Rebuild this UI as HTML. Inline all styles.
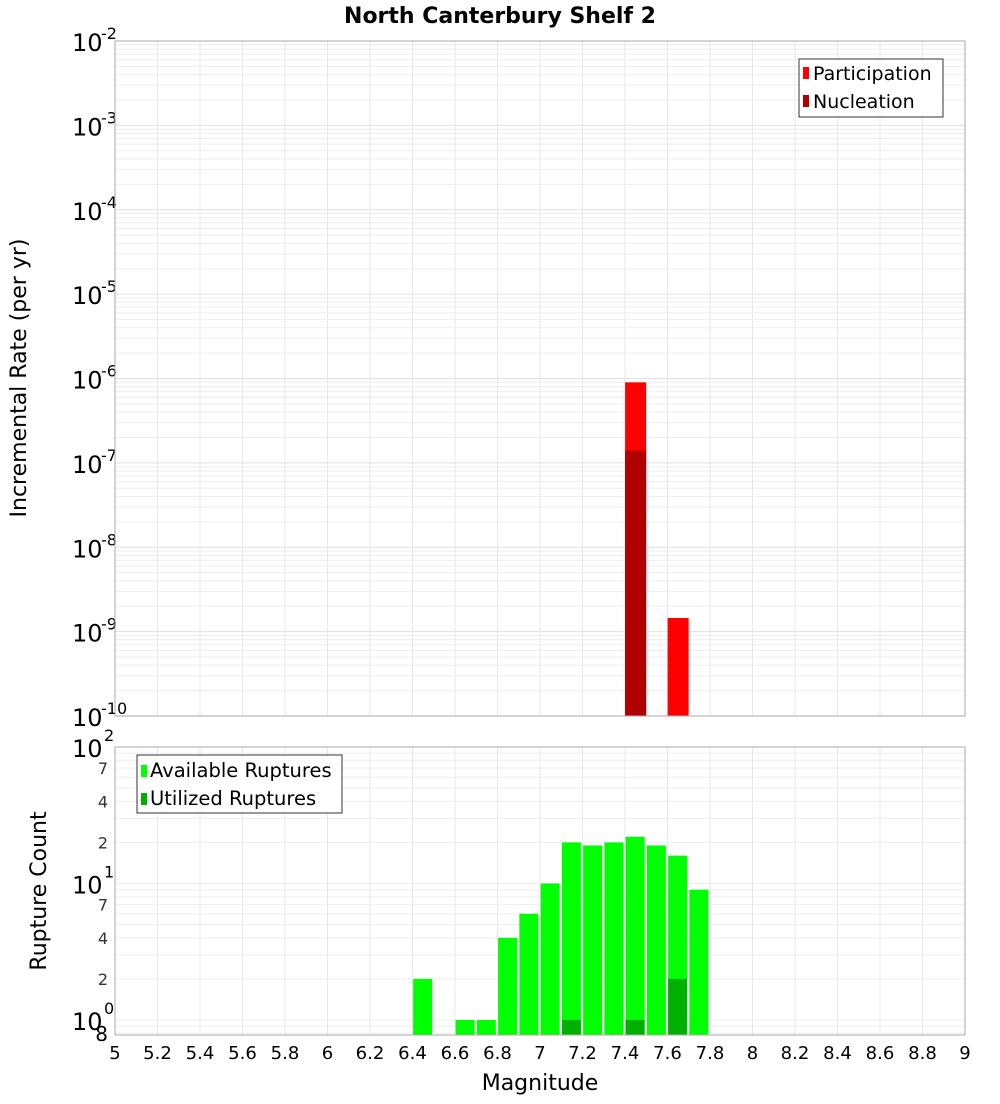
<!DOCTYPE html>
<html><head><meta charset="utf-8"><style>
body{margin:0;background:#fff;font-family:"DejaVu Sans","Liberation Sans",sans-serif}
svg text{font-family:"DejaVu Sans","Liberation Sans",sans-serif}
</style></head><body>
<svg id="c" width="1000" height="1100" xmlns="http://www.w3.org/2000/svg">
<text x="500" y="23" text-anchor="middle" font-size="22" font-weight="bold">North Canterbury Shelf 2</text>
<g id="gtop"></g><g id="gbot"></g>
<text transform="translate(26,378) rotate(-90)" text-anchor="middle" font-size="22">Incremental Rate (per yr)</text>
<text transform="translate(46,891) rotate(-90)" text-anchor="middle" font-size="22">Rupture Count</text>
<text x="540" y="1090" text-anchor="middle" font-size="22">Magnitude</text>
<g>
<rect x="799" y="59" width="144" height="58" fill="#fff" stroke="#333"/>
<rect x="803" y="67" width="6" height="12" fill="#ff0000"/><text x="813" y="80" font-size="19">Participation</text>
<rect x="803" y="95" width="6" height="12" fill="#b00000"/><text x="813" y="108" font-size="19">Nucleation</text>
</g>
<g>
<rect x="137" y="755" width="205" height="58" fill="#fff" stroke="#333"/>
<rect x="141" y="765" width="6" height="12" fill="#00ff00"/><text x="150" y="777" font-size="19.5">Available Ruptures</text>
<rect x="141" y="793" width="6" height="12" fill="#00b000"/><text x="150" y="805" font-size="19.5">Utilized Ruptures</text>
</g>
</svg>
<script>
const mags=[7.45,7.65];
const participation=[9e-7,1.45e-9];
const nucleation=[1.4e-7,0];
const bMags=[6.45,6.65,6.75,6.85,6.95,7.05,7.15,7.25,7.35,7.45,7.55,7.65,7.75];
const available=[2,1,1,4,6,10,20,19,20,22,19,16,9];
const utilized=[0,0,0,0,0,0,1,0,0,1,0,2,0];
const xTicks=[5,5.2,5.4,5.6,5.8,6,6.2,6.4,6.6,6.8,7,7.2,7.4,7.6,7.8,8,8.2,8.4,8.6,8.8,9];
const topExp=[-2,-3,-4,-5,-6,-7,-8,-9,-10];
const NS="http://www.w3.org/2000/svg";
const L=115,R=965;
const X=m=>L+(m-5)/4*(R-L);
const T0=41,T1=716,B0=747,B1=1035;
const YT=v=>T0+(-2-Math.log10(v))/8*(T1-T0);
const bMin=-0.11;
const YB=v=>B0+(2-Math.log10(v))/(2-bMin)*(B1-B0);
function el(p,t,a,txt){const e=document.createElementNS(NS,t);for(const k in a)e.setAttribute(k,a[k]);if(txt!==undefined)e.textContent=txt;p.appendChild(e);return e;}
const gTop=document.getElementById('gtop'),gBot=document.getElementById('gbot');
el(gTop,'rect',{x:L,y:T0,width:R-L,height:T1-T0,fill:'#fff'});
el(gBot,'rect',{x:L,y:B0,width:R-L,height:B1-B0,fill:'#fff'});
for(let e=-10;e<-2;e++)for(let k=1;k<10;k++){const y=YT(k*Math.pow(10,e));
 el(gTop,'line',{x1:L,x2:R,y1:y,y2:y,stroke:k==1?'#e0e0e0':'#eeeeee'});}
for(let e=-1;e<2;e++)for(let k=1;k<10;k++){const v=k*Math.pow(10,e);if(Math.log10(v)<bMin)continue;const y=YB(v);
 el(gBot,'line',{x1:L,x2:R,y1:y,y2:y,stroke:'#eeeeee'});}
xTicks.forEach(t=>{const x=X(t);
 let g=el(gTop,'line',{x1:x,x2:x,y1:T0,y2:T1,stroke:'#e8e8e8'});
 
 
 g=el(gBot,'line',{x1:x,x2:x,y1:B0,y2:B1,stroke:'#e8e8e8'});
 
 
 const tx=el(gBot,'text',{x:x,y:1059,'text-anchor':'middle','font-size':18},String(t));
 
 });
topExp.forEach(e=>{const y=YT(Math.pow(10,e));
 const t=el(gTop,'text',{x:72,y:y+10,'font-size':24},'10');
 
 
 el(gTop,'text',{x:101,y:y-2,'font-size':16},String(e));});
[[100,'10','2'],[10,'10','1'],[1,'10','0']].forEach(a=>{const y=YB(a[0]);
 const t=el(gBot,'text',{x:72,y:y+10,'font-size':24},a[1]);
 
 
 el(gBot,'text',{x:104,y:y-6,'font-size':16},a[2]);});
[70,40,20,7,4,2].forEach(v=>{const y=YB(v);el(gBot,'text',{x:108,y:y+6,'text-anchor':'end','font-size':16,fill:'#333'},String(v>=10?v/10:v));});
el(gBot,'text',{x:108,y:YB(0.8)+8,'text-anchor':'end','font-size':20},'8');
const bw=21;
mags.forEach((m,i)=>{
 let r=el(gTop,'rect',{x:X(m)-bw/2,y:YT(participation[i]),width:bw,height:T1-YT(participation[i]),fill:'#ff0000'});
 
 
 if(nucleation[i]>0){r=el(gTop,'rect',{x:X(m)-bw/2,y:YT(nucleation[i]),width:bw,height:T1-YT(nucleation[i]),fill:'#b00000'});
 
 }
});
bMags.forEach((m,i)=>{
 let r=el(gBot,'rect',{x:X(m)-10,y:YB(available[i]),width:19,height:B1-YB(available[i]),fill:'#00ff00'});
 
 
 if(utilized[i]>0){r=el(gBot,'rect',{x:X(m)-10,y:YB(utilized[i]),width:19,height:B1-YB(utilized[i]),fill:'#00b000'});
 
 }
});
el(gTop,'rect',{x:L,y:T0,width:R-L,height:T1-T0,fill:'none',stroke:'#aaa'});
el(gBot,'rect',{x:L,y:B0,width:R-L,height:B1-B0,fill:'none',stroke:'#aaa'});
</script>
</body></html>
